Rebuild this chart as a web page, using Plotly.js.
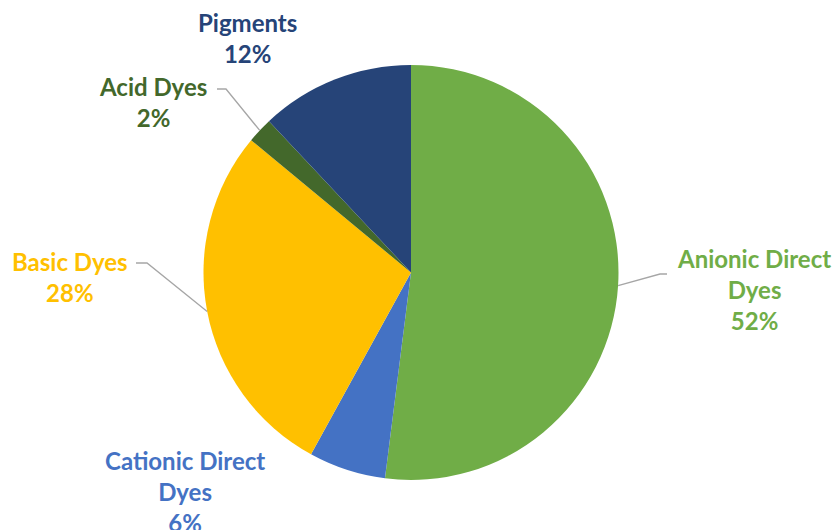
<!DOCTYPE html>
<html><head><meta charset="utf-8">
<script src="https://cdn.plot.ly/plotly-3.0.1.min.js"></script>
<style>html,body{margin:0;padding:0;background:#fff}#chart{width:833px;height:530px}</style>
</head><body><div id="chart"></div>
<script>
const categories = ["Anionic Direct Dyes", "Cationic Direct Dyes", "Basic Dyes", "Acid Dyes", "Pigments"];
const values = [52, 6, 28, 2, 12];
const colors = ["#70AD47", "#4472C4", "#FFC000", "#43682B", "#264478"];
const labelTexts = ["Anionic Direct<br>Dyes<br>52%", "Cationic Direct<br>Dyes<br>6%", "Basic Dyes<br>28%", "Acid Dyes<br>2%", "Pigments<br>12%"];

const W = 833, H = 530;
const cx = 411, cy = 272.5, R = 207.5;
const dom = {x: [(cx - R) / W, (cx + R) / W], y: [1 - (cy + R) / H, 1 - (cy - R) / H]};

// label placement (pixel centres of text blocks) and leader-line elbows
const labelPos = [[754, 289], [185, 491], [70, 277], [153, 102], [248, 38]];
const leaderElbow = [[660, 274], null, [147, 263], [226, 89], null];
const leaderEnd = [[667, 274], null, [136, 263], [217, 89], null];

const px = x => x / W, py = y => 1 - y / H;
const total = values.reduce((a, b) => a + b, 0);
const annotations = [], shapes = [];
let cum = 0;
values.forEach((v, i) => {
  const mid = (cum + v / 2) / total * 2 * Math.PI;
  cum += v;
  annotations.push({
    xref: "paper", yref: "paper", x: px(labelPos[i][0]), y: py(labelPos[i][1]),
    xanchor: "center", yanchor: "middle", showarrow: false, align: "center",
    text: labelTexts[i],
    font: {family: "Lato, 'Open Sans', sans-serif", size: 24, color: colors[i], weight: "bold"}
  });
  if (leaderElbow[i]) {
    const sx = cx + R * Math.sin(mid), sy = cy - R * Math.cos(mid);
    const pts = [[sx, sy], leaderElbow[i], leaderEnd[i]];
    shapes.push({
      type: "path", xref: "paper", yref: "paper",
      path: "M" + pts.map(p => px(p[0]) + "," + py(p[1])).join(" L"),
      line: {color: "#A6A6A6", width: 1.3}
    });
  }
});

const data = [{
  type: "pie", labels: categories, values: values, sort: false,
  direction: "clockwise", rotation: 0,
  marker: {colors: colors, line: {width: 0}},
  textinfo: "none", hoverinfo: "label+percent",
  domain: dom, showlegend: false
}];
const layout = {
  width: W, height: H, margin: {l: 0, r: 0, t: 0, b: 0},
  paper_bgcolor: "#fff", plot_bgcolor: "#fff",
  showlegend: false, annotations: annotations, shapes: shapes
};
Plotly.newPlot("chart", data, layout, {displayModeBar: false, staticPlot: true});
</script></body></html>
